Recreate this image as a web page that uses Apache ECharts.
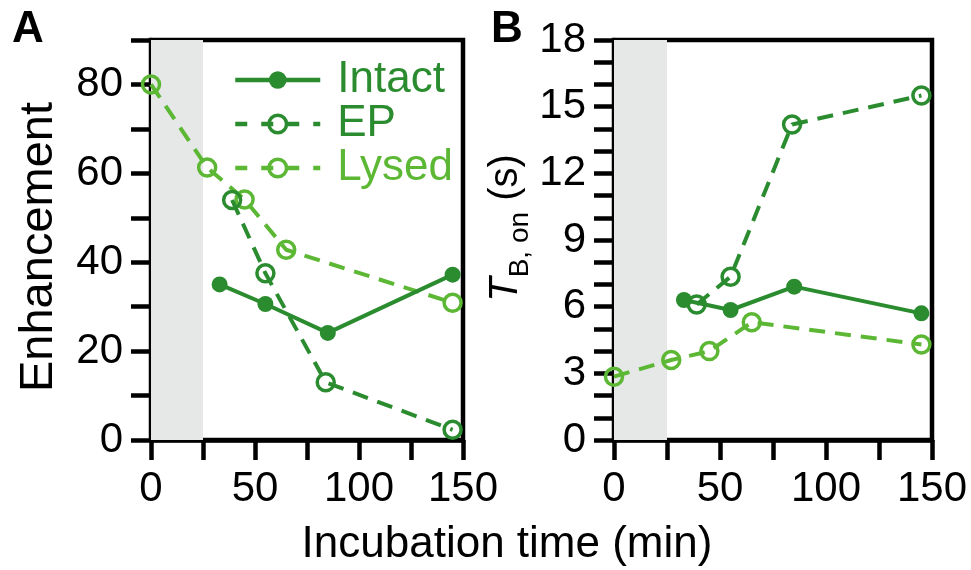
<!DOCTYPE html>
<html>
<head>
<meta charset="utf-8">
<script src="https://cdn.jsdelivr.net/npm/echarts@6/dist/echarts.min.js"></script>
<style>
  html, body { margin: 0; padding: 0; background: #ffffff; }
  #chart { width: 971px; height: 570px; }
</style>
</head>
<body>
<div id="chart"></div>
<script>
// ---- data ----
var seriesNames = ['Intact', 'EP', 'Lysed'];
var timesIntact = [33, 55, 85, 145];
var timesEP = [39, 55, 84, 145];
var timesLysed = [0, 27, 45, 65, 145];
// Panel A: Enhancement
var enhIntact = [35, 30.6, 24.1, 37.2];
var enhEP = [54, 37.5, 13, 2.3];
var enhLysed = [80, 61.3, 54.1, 42.8, 30.9];
// Panel B: T_B,on (s)
var tbIntact = [6.3, 5.85, 6.9, 5.7];
var tbEP = [6.1, 7.35, 14.2, 15.5];
var tbLysed = [2.85, 3.6, 4.0, 5.3, 4.3];
// shaded window (min)
var shadeRange = [0, 25];

var DARK = '#2a8c2f';
var LIGHT = '#5cb834';
var FONT = 'Liberation Sans, Arial, sans-serif';

function zip(xs, ys) { return xs.map(function (x, i) { return [x, ys[i]]; }); }

function mkSeries(name, xs, ys, gridIdx, style) {
  return {
    name: name,
    type: 'line',
    xAxisIndex: gridIdx,
    yAxisIndex: gridIdx,
    data: zip(xs, ys),
    symbol: 'circle',
    symbolSize: style.filled ? 16 : 17,
    lineStyle: { color: style.color, width: 4, type: style.dashed ? [16, 10] : 'solid' },
    itemStyle: style.filled
      ? { color: style.color, borderColor: style.color, borderWidth: 0 }
      : { color: 'rgba(255,255,255,0)', borderColor: style.color, borderWidth: 3.5 },
    color: style.color,
    z: style.z,
    animation: false
  };
}

var styles = {
  Intact: { color: DARK, filled: true, dashed: false, z: 4 },
  EP: { color: DARK, filled: false, dashed: true, z: 3 },
  Lysed: { color: LIGHT, filled: false, dashed: true, z: 2 }
};

var shadeSeries = function (gi) {
  return {
    type: 'line', xAxisIndex: gi, yAxisIndex: gi, data: [], silent: true,
    markArea: {
      silent: true,
      itemStyle: { color: '#e6e8e7' },
      data: [[{ xAxis: shadeRange[0] }, { xAxis: shadeRange[1] }]]
    },
    z: 1
  };
};

function xAxisCfg(gi) {
  return {
    gridIndex: gi, type: 'value', min: 0, max: 150, interval: 25,
    axisLine: { lineStyle: { color: '#000', width: 4.5 } },
    axisTick: { length: 20, lineStyle: { color: '#000', width: 4.5 } },
    splitLine: { show: false },
    axisLabel: {
      margin: 28, fontSize: 42, color: '#000', fontFamily: FONT,
      formatter: function (v) { return v % 50 === 0 ? String(v) : ''; }
    }
  };
}

var option = {
  backgroundColor: '#ffffff',
  animation: false,
  textStyle: { fontFamily: FONT },
  grid: [
    { left: 151, top: 40, width: 312, height: 400, show: true, borderColor: '#000', borderWidth: 4.5, backgroundColor: 'rgba(0,0,0,0)' },
    { left: 614, top: 40, width: 318, height: 400, show: true, borderColor: '#000', borderWidth: 4.5, backgroundColor: 'rgba(0,0,0,0)' }
  ],
  xAxis: [xAxisCfg(0), xAxisCfg(1)],
  yAxis: [
    {
      gridIndex: 0, type: 'value', min: 0, max: 90, interval: 10,
      name: 'Enhancement', nameLocation: 'middle', nameGap: 88, nameRotate: 90,
      nameTextStyle: { fontSize: 47, color: '#000', fontFamily: FONT, padding: [0, 14, 0, 0] },
      axisLine: { lineStyle: { color: '#000', width: 4.5 } },
      axisTick: { length: 20, lineStyle: { color: '#000', width: 4.5 } },
      splitLine: { show: false },
      axisLabel: {
        margin: 28, fontSize: 42, color: '#000', fontFamily: FONT,
        formatter: function (v) { return v % 20 === 0 ? String(v) : ''; }
      }
    },
    {
      gridIndex: 1, type: 'value', min: 0, max: 18, interval: 1,
      name: '{t|T}{sub|B, on}{n| (s)}', nameLocation: 'middle', nameGap: 80, nameRotate: 90,
      nameTextStyle: {
        color: '#000', fontFamily: FONT, padding: [0, 0, 0, 24],
        rich: {
          t: { fontSize: 40, fontStyle: 'italic', color: '#000', fontFamily: FONT, verticalAlign: 'bottom', padding: [0, 0, 8, 0] },
          sub: { fontSize: 28, color: '#000', fontFamily: FONT, verticalAlign: 'bottom' },
          n: { fontSize: 40, color: '#000', fontFamily: FONT, verticalAlign: 'bottom', padding: [0, 0, 8, 0] }
        }
      },
      axisLine: { lineStyle: { color: '#000', width: 4.5 } },
      axisTick: { length: 20, lineStyle: { color: '#000', width: 4.5 } },
      splitLine: { show: false },
      axisLabel: {
        margin: 28, fontSize: 42, color: '#000', fontFamily: FONT,
        formatter: function (v) { return v % 3 === 0 ? String(v) : ''; }
      }
    }
  ],
  legend: {
    left: 228, top: 53, orient: 'vertical',
    itemWidth: 85, itemHeight: 22, itemGap: 0,
    textStyle: { fontSize: 44, fontFamily: FONT, lineHeight: 37, padding: [0, 0, 0, 12] },
    data: [
      { name: 'Intact', textStyle: { color: DARK }, lineStyle: { width: 4.5, color: DARK, type: 'solid' }, itemStyle: { color: DARK, borderWidth: 0 } },
      { name: 'EP', textStyle: { color: DARK }, lineStyle: { width: 4.5, color: DARK, type: [12, 14] }, itemStyle: { color: 'rgba(255,255,255,0)', borderColor: DARK, borderWidth: 3.5 } },
      { name: 'Lysed', textStyle: { color: LIGHT }, lineStyle: { width: 4.5, color: LIGHT, type: [12, 14] }, itemStyle: { color: 'rgba(255,255,255,0)', borderColor: LIGHT, borderWidth: 3.5 } }
    ]
  },
  graphic: [
    { type: 'text', left: 12, top: 8, style: { text: 'A', font: 'bold 44px ' + FONT, fill: '#000' } },
    { type: 'text', left: 491, top: 8, style: { text: 'B', font: 'bold 44px ' + FONT, fill: '#000' } },
    { type: 'text', x: 507, y: 545, style: { text: 'Incubation time (min)', font: '44px ' + FONT, fill: '#000', textAlign: 'center', textVerticalAlign: 'middle' } }
  ],
  series: [
    shadeSeries(0), shadeSeries(1),
    mkSeries('Lysed', timesLysed, enhLysed, 0, styles.Lysed),
    mkSeries('EP', timesEP, enhEP, 0, styles.EP),
    mkSeries('Intact', timesIntact, enhIntact, 0, styles.Intact),
    mkSeries('Lysed', timesLysed, tbLysed, 1, styles.Lysed),
    mkSeries('EP', timesEP, tbEP, 1, styles.EP),
    mkSeries('Intact', timesIntact, tbIntact, 1, styles.Intact)
  ]
};

var chart = echarts.init(document.getElementById('chart'), null, { renderer: 'canvas' });
chart.setOption(option);
</script>
</body>
</html>
